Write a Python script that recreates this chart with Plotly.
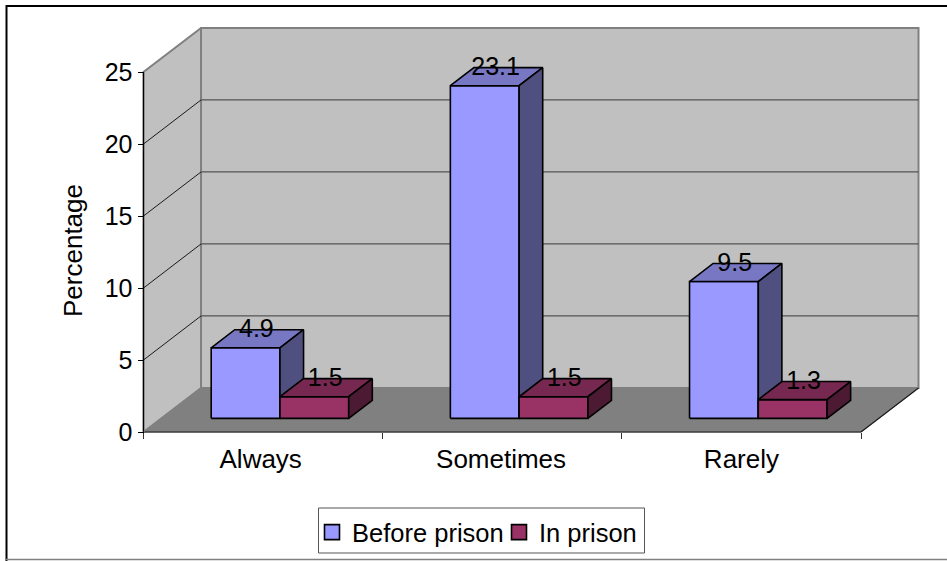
import plotly.graph_objects as go

# Chart data
categories = ["Always", "Sometimes", "Rarely"]
category_positions = [0.49, 1.495, 2.5]
before_prison = [4.9, 23.1, 9.5]
in_prison = [1.5, 1.5, 1.3]
y_ticks = [0, 5, 10, 15, 20, 25]

FONT = "Liberation Sans, Arial, sans-serif"
TICK_SIZE = 25
CATEGORY_SIZE = 26
LEGEND_SIZE = 25.5

# Oblique projection: depth 0 is the front of the floor, depth 1 the back wall
DEPTH_X = 0.2405   # category units
DEPTH_Y = 3.06     # value units
BAR_WIDTH = 0.2875
BAR_GAP = 0.2085
BAR_FRONT = 0.31
BAR_BACK = 0.72
N = len(categories)
Y_MAX = y_ticks[-1]


def project(x, v, d):
    return x + d * DEPTH_X, v + d * DEPTH_Y


def polygon(points, fill, line_color, line_width):
    xs, ys = zip(*[project(*p) for p in points + points[:1]])
    return go.Scatter(
        x=xs, y=ys, mode="lines", fill="toself", fillcolor=fill,
        line=dict(color=line_color, width=line_width),
        showlegend=False, hoverinfo="skip",
    )


def segment(p, q, color, width):
    xs, ys = zip(project(*p), project(*q))
    return go.Scatter(
        x=xs, y=ys, mode="lines", line=dict(color=color, width=width),
        showlegend=False, hoverinfo="skip",
    )


def bar_faces(x0, x1, v, front, top, side):
    f, b = BAR_FRONT, BAR_BACK
    edge = "#000000"
    return [
        polygon([(x0, 0, f), (x1, 0, f), (x1, v, f), (x0, v, f)], front, edge, 1.6),
        polygon([(x0, v, f), (x1, v, f), (x1, v, b), (x0, v, b)], top, edge, 1.6),
        polygon([(x1, 0, f), (x1, 0, b), (x1, v, b), (x1, v, f)], side, edge, 1.6),
    ]


fig = go.Figure()

# Walls and floor
WALL = "#C0C0C0"
WALL_EDGE = "#808080"
fig.add_trace(polygon([(0, 0, 1), (N, 0, 1), (N, Y_MAX, 1), (0, Y_MAX, 1)], WALL, WALL_EDGE, 2))
fig.add_trace(polygon([(0, 0, 0), (0, 0, 1), (0, Y_MAX, 1), (0, Y_MAX, 0)], WALL, WALL_EDGE, 2))
fig.add_trace(polygon([(0, 0, 0), (N, 0, 0), (N, 0, 1), (0, 0, 1)], "#808080", "#808080", 1))

# Gridlines run along the side wall and then across the back wall
for v in y_ticks[1:-1]:
    fig.add_trace(segment((0, v, 0), (0, v, 1), "#1a1a1a", 1))
    fig.add_trace(segment((0, v, 1), (N, v, 1), "#555555", 1.3))

# Axis lines and the right edge of the floor
fig.add_trace(segment((0, 0, 0), (0, Y_MAX, 0), "#000000", 1.2))
fig.add_trace(segment((0, 0, 0), (N, 0, 0), "#1a1a1a", 1.2))
fig.add_trace(segment((N, 0, 0), (N, 0, 1), "#1a1a1a", 1.2))
fig.add_trace(segment((0, 0, 0), (0, 0, 1), "#808080", 1))

# Bars, drawn left to right so each one overlaps the previous side face
label_x, label_y, label_text = [], [], []
for i in range(N):
    x0 = i + BAR_GAP
    x1 = x0 + BAR_WIDTH
    x2 = x1 + BAR_WIDTH
    for tr in bar_faces(x0, x1, before_prison[i], "#9999FF", "#7777C4", "#4F4F80"):
        fig.add_trace(tr)
    for tr in bar_faces(x1, x2, in_prison[i], "#993366", "#772850", "#4D1A33"):
        fig.add_trace(tr)
    for a, b, v in ((x0, x1, before_prison[i]), (x1, x2, in_prison[i])):
        lx, _ = project((a + b) / 2, v, (BAR_FRONT + BAR_BACK) / 2)
        _, ly = project((a + b) / 2, v, BAR_BACK - 0.03)
        label_x.append(lx - 0.004)
        label_y.append(ly)
        label_text.append(str(v))

# Value labels
fig.add_trace(go.Scatter(
    x=label_x, y=label_y, text=label_text, mode="text",
    textposition="middle center",
    textfont=dict(family=FONT, size=TICK_SIZE, color="#000000"),
    showlegend=False, hoverinfo="skip",
))

# Legend entries
for name, color in (("Before prison", "#9999FF"), ("In prison", "#993366")):
    fig.add_trace(go.Scatter(
        x=[None], y=[None], mode="markers", name=name,
        marker=dict(symbol="square", size=15, color=color,
                    line=dict(color="#000000", width=1.6)),
    ))

W, H = 947, 561
PX_PER_CAT = (861 - 143.5) / N
PX_PER_UNIT = 14.4
X0_PX, Y0_PX = 143.5, 432

fig.update_layout(
    width=W, height=H, autosize=False,
    margin=dict(l=0, r=0, t=0, b=0),
    paper_bgcolor="#FFFFFF", plot_bgcolor="#FFFFFF",
    font=dict(family=FONT, size=TICK_SIZE, color="#000000"),
    xaxis=dict(
        range=[-X0_PX / PX_PER_CAT, (W - X0_PX) / PX_PER_CAT],
        domain=[0, 1], anchor="free", position=(H - Y0_PX) / H,
        tickmode="array",
        tickvals=category_positions, ticktext=categories,
        tickfont=dict(family=FONT, size=CATEGORY_SIZE),
        ticks="", ticklabelstandoff=9,
        minor=dict(tickmode="array", tickvals=list(range(N + 1)),
                   ticks="outside", ticklen=6, tickcolor="#333333", tickwidth=1,
                   showgrid=False),
        showgrid=False, zeroline=False, showline=False,
    ),
    yaxis=dict(
        range=[-(H - Y0_PX) / PX_PER_UNIT, Y0_PX / PX_PER_UNIT],
        domain=[0, 1], anchor="free", position=X0_PX / W,
        tickmode="array", tickvals=y_ticks,
        ticks="outside", ticklen=6, tickcolor="#000000", tickwidth=1,
        showgrid=False, zeroline=False, showline=False,
    ),
    legend=dict(
        orientation="h", x=312 / W, y=(H - 509) / H,
        xanchor="left", yanchor="top",
        bgcolor="rgba(0,0,0,0)", borderwidth=0,
        entrywidth=142, entrywidthmode="pixels",
        font=dict(family=FONT, size=LEGEND_SIZE),
    ),
    annotations=[dict(
        text="Percentage", textangle=-90, showarrow=False,
        xref="paper", yref="paper", x=73 / W, y=(H - 251) / H,
        xanchor="center", yanchor="middle",
        font=dict(family=FONT, size=CATEGORY_SIZE),
    )],
    shapes=[
        dict(type="line", xref="paper", yref="paper", x0=6 / W, x1=1, y0=1 - 6 / H, y1=1 - 6 / H,
             line=dict(color="#000000", width=2)),
        dict(type="line", xref="paper", yref="paper", x0=6.5 / W, x1=6.5 / W, y0=0, y1=1 - 5 / H,
             line=dict(color="#000000", width=2)),
        dict(type="line", xref="paper", yref="paper", x0=6 / W, x1=1, y0=1.5 / H, y1=1.5 / H,
             line=dict(color="#808080", width=1.5)),
        # Frame behind the legend entries
        dict(type="rect", xref="paper", yref="paper", layer="above",
             x0=318.5 / W, x1=644.5 / W, y0=(H - 553) / H, y1=(H - 508) / H,
             fillcolor="#FFFFFF", line=dict(color="#555555", width=1)),
    ],
)

fig.write_html("out.html", config=dict(displayModeBar=False))
